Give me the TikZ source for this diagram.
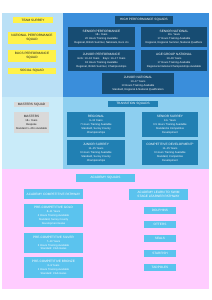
\documentclass[tikz,border=0pt]{standalone}
\usepackage{fontspec}
\setmainfont{Liberation Sans}
\usepackage{xcolor}
\usetikzlibrary{positioning}
\definecolor{ink}{HTML}{1A1A1A}
\definecolor{toppale}{HTML}{BAE0F6}
\definecolor{hpblue}{HTML}{3A8EDB}
\definecolor{hpnavy}{HTML}{174C72}
\definecolor{surreyyel}{HTML}{FFF24A}
\definecolor{midpale}{HTML}{C9EBF9}
\definecolor{midblue}{HTML}{8DCFF0}
\definecolor{tranblue}{HTML}{2180B3}
\definecolor{mastgrey}{HTML}{D9D9D9}
\definecolor{acadpink}{HTML}{FFCCFF}
\definecolor{acadblue}{HTML}{5BC3EE}
\newcommand{\ttl}{\fontsize{9}{11}\selectfont}
\newcommand{\dtl}{\fontsize{7.6}{11}\selectfont}
\tikzset{
  sqcard/.style={draw=none,align=center,inner sep=1pt,font=\dtl},
  yelcard/.style={sqcard,fill=surreyyel,text=ink,font=\ttl},
  navycard/.style={sqcard,fill=hpnavy,text=white},
  trancard/.style={sqcard,fill=tranblue,text=white},
  greycard/.style={sqcard,fill=mastgrey,text=ink},
  acadcard/.style={sqcard,fill=acadblue,text=white},
  sz/.style 2 args={minimum width=#1mm,minimum height=#2mm}
}

\begin{document}
\begin{tikzpicture}[x=1mm,y=-1mm]
    \path[use as bounding box] (0,0) rectangle (212,300);
    % backgrounds
    \fill[toppale] (2,13) rectangle (63,97);
    \fill[hpblue] (63,13) rectangle (209,97);
    \fill[midpale] (2,97) rectangle (63,169);
    \fill[midblue] (63,97) rectangle (209,169);
    \fill[acadpink] (2,169) rectangle (209,289);
    % left column
    \node[yelcard,sz={40}{6}] (surrey) at (33,20) {TEAM SURREY};
    \node[yelcard,sz={48}{12}] (natperf) at (32,38) {NATIONAL PERFORMANCE\\SQUAD};
    \node[yelcard,sz={48}{12}] (bucs) at (32,56) {BUCS PERFORMANCE\\SQUAD};
    \node[yelcard,sz={48}{6}] (social) at (32,71) {SOCIAL SQUAD};
    % high performance
    \node[navycard,sz={58}{8},font=\ttl] (hphead) at (144,20) {HIGH PERFORMANCE SQUADS};
    \node[navycard,sz={67}{20}] (senperf) at (101.5,37)
      {{\ttl SENIOR PERFORMANCE}\\18+ Years\\20 Hours Training Available\\Regional, British Summer, Nationals, Euro Jrs};
    \node[navycard,sz={66}{20}] (sennat) at (174,37)
      {{\ttl SENIOR NATIONAL}\\16+ Years\\17 Hours Training Available\\Regional, Regional Summer, National Qualifiers};
    \node[navycard,sz={67}{21}] (junperf) at (101.5,60.5)
      {{\ttl JUNIOR PERFORMANCE}\\Girls: 13--16 Years \quad Boys: 14--17 Years\\18 Hours Training Available\\Regional, British Summer, Championships};
    \node[navycard,sz={66}{21}] (agenat) at (174,60.5)
      {{\ttl AGE GROUP NATIONAL}\\13--16 Years\\17 Hours Training Available\\Regional \& National Championships Available};
    \node[navycard,sz={72}{21}] (junnat) at (138,83.5)
      {{\ttl JUNIOR NATIONAL}\\13--17 Years\\13 Hours Training Available\\Standard, Regional \& National Qualification};
    % masters
    \node[greycard,sz={35}{5.5},font=\ttl] (masthead) at (31.5,104.5) {MASTERS SQUAD};
    \node[greycard,sz={35}{21}] (masters) at (31.5,122.5)
      {{\ttl MASTERS}\\18+ Years\\Bespoke\\Standard 1--4hrs Available};
    % transition
    \node[trancard,sz={50}{6},font=\ttl] (tranhead) at (133,104) {TRANSITION SQUADS};
    \node[trancard,sz={58}{25}] (regional) at (96,124.5)
      {{\ttl REGIONAL}\\9--13 Years\\7 Hours Training Available\\Standard, Surrey County\\Championships};
    \node[trancard,sz={56}{25}] (sensurrey) at (170,124.5)
      {{\ttl SENIOR SURREY}\\14+ Years\\6.5 Hours Training Available\\Standard \& Competitive\\Development};
    \node[trancard,sz={58}{25}] (junsurrey) at (96,152.5)
      {{\ttl JUNIOR SURREY}\\11--15 Years\\6 Hours Training Available\\Standard, Surrey County\\Championships};
    \node[trancard,sz={56}{25}] (compdev) at (170,152.5)
      {{\ttl COMPETITIVE DEVELOPMENT*}\\11--15 Years\\6 Hours Training Available\\Standard, Competitive\\Development};
    % academy
    \node[acadcard,sz={59}{8},font=\ttl] (acadhead) at (105.5,178) {ACADEMY SQUADS};
    \node[acadcard,sz={59}{10},font=\ttl] (comppath) at (53.5,194) {ACADEMY COMPETITIVE PATHWAY};
    \node[acadcard,sz={59}{11},font=\ttl] (ltspath) at (158.5,194.5) {ACADEMY LEARN TO SWIM\\STAGE LEARNER PATHWAY};
    \node[acadcard,sz={59}{23}] (gold) at (53.5,215.5)
      {{\ttl PRE-COMPETITIVE GOLD}\\8--11 Years\\4 Hours Training Available\\Standard, Surrey County\\Development Galas};
    \node[acadcard,sz={59}{20}] (silver) at (53.5,243)
      {{\ttl PRE-COMPETITIVE SILVER}\\7--10 Years\\3 Hours Training Available\\Standard: Club Galas};
    \node[acadcard,sz={59}{21}] (bronze) at (53.5,267.5)
      {{\ttl PRE-COMPETITIVE BRONZE}\\6--9 Years\\2 Hours Training Available\\Standard: Club Galas};
    \node[acadcard,sz={32}{7},font=\ttl] (dolphins) at (160,210) {DOLPHINS};
    \node[acadcard,sz={32}{7},font=\ttl] (otters) at (160,224) {OTTERS};
    \node[acadcard,sz={32}{7},font=\ttl] (seals) at (160,238.5) {SEALS};
    \node[acadcard,sz={32}{7},font=\ttl] (starfish) at (160,253) {STARFISH};
    \node[acadcard,sz={32}{7},font=\ttl] (tadpoles) at (160,267) {TADPOLES};
  \end{tikzpicture}
\end{document}
